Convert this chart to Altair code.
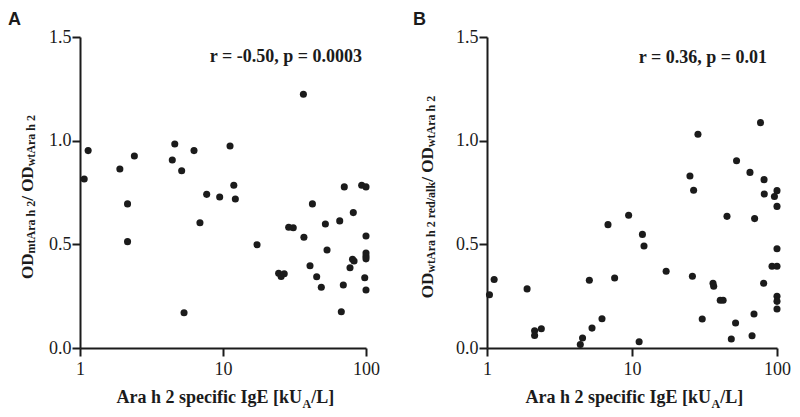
import altair as alt
import pandas as pd

# ---- data ----
ige_a = [1.14, 1.07, 1.9, 2.4, 2.15, 2.15, 4.6, 4.42, 5.14, 6.27, 5.34, 6.9, 7.69, 9.48,
         11.2, 11.9, 12.2, 17.3, 24.5, 25.5, 26.8, 28.8, 31.0, 36.5, 36.8, 40.6, 42.2,
         45.2, 48.7, 52.0, 53.4, 65.5, 67.2, 69.4, 70.5, 77.3, 80.5, 82.5, 81.5, 93.3,
         100, 100, 100, 100, 100, 98, 100]
ratio_a = [0.952, 0.815, 0.863, 0.926, 0.695, 0.513, 0.984, 0.907, 0.855, 0.952, 0.170,
           0.604, 0.741, 0.728, 0.974, 0.785, 0.719, 0.498, 0.360, 0.345, 0.358, 0.582,
           0.580, 1.224, 0.534, 0.397, 0.695, 0.344, 0.293, 0.598, 0.473, 0.613, 0.175,
           0.304, 0.777, 0.387, 0.428, 0.420, 0.653, 0.785, 0.777, 0.540, 0.458, 0.443,
           0.430, 0.339, 0.280]

ige_b = [1.04, 1.12, 1.89, 2.13, 2.13, 2.37, 4.4, 4.56, 5.08, 5.3, 6.21, 6.83, 7.59, 9.48,
         11.2, 11.8, 12.1, 17.2, 25.1, 26.6, 26.1, 28.5, 30.5, 36.2, 36.6, 40.6, 42.5,
         45.2, 48.4, 51.8, 52.6, 65.1, 67.3, 69.4, 70.1, 77, 80.9, 81.4, 81.7, 92.4, 96,
         100, 100, 100, 100, 100, 100, 100]
ratio_b = [0.257, 0.330, 0.285, 0.083, 0.060, 0.093, 0.017, 0.048, 0.327, 0.096, 0.141,
           0.595, 0.338, 0.640, 0.030, 0.548, 0.492, 0.370, 0.830, 0.761, 0.346, 1.031,
           0.140, 0.312, 0.298, 0.230, 0.230, 0.635, 0.043, 0.121, 0.903, 0.847, 0.059,
           0.164, 0.624, 1.087, 0.312, 0.812, 0.743, 0.394, 0.731, 0.759, 0.683, 0.479,
           0.394, 0.249, 0.225, 0.188]

x_ticks = [1, 10, 100]
y_ticks = [0.0, 0.5, 1.0, 1.5]

stat_a = "r = -0.50, p = 0.0003"
stat_b = "r = 0.36, p = 0.01"
x_title = ("Ara h 2 specific IgE [kU", "A", "/L]")
ytitle_a = [("OD", 17, 0), ("mtAra h 2", 12, 2), ("/ OD", 17, 0), ("wtAra h 2", 12, 2)]
ytitle_b = [("OD", 17, 0), ("wtAra h 2 red/alk", 12, 2), ("/ OD", 17, 0), ("wtAra h 2", 12, 2)]

# Times-Bold advance widths (per 1000 em) used to chain the text pieces
TB = {' ': 250, '/': 278, 'O': 778, 'D': 722, 'm': 833, 't': 333, 'A': 722, 'r': 444,
      'a': 500, 'h': 556, '2': 500, 'w': 722, 'e': 444, 'd': 556, 'l': 278, 'k': 556}


def tw(s, size):
    return sum(TB.get(c, 500) for c in s) / 1000 * size


SERIF = "Liberation Serif"
INK = "#1b1b1b"
H = 311


def one(text, x, y, size, font=SERIF, align="left", angle=0, weight="bold"):
    kw = dict(text=text, font=font, fontSize=size, fontWeight=weight, align=align,
              baseline="alphabetic", color=INK)
    if angle:
        kw["angle"] = angle
    return alt.Chart(alt.Data(values=[{}])).mark_text(**kw).encode(
        x=alt.value(x), y=alt.value(y))


def panel(xs, ys, letter, letter_x, stat, stat_x, stat_y, pieces, title_x, W):
    df = pd.DataFrame({"ige": xs, "ratio": ys})
    pts = alt.Chart(df).mark_circle(size=50, color=INK, opacity=1).encode(
        x=alt.X("ige:Q",
                scale=alt.Scale(type="log", domain=[1, 100], nice=False),
                axis=alt.Axis(values=x_ticks, format="d", title=None, labelPadding=4,
                              labelFlush=False, labelOverlap=False)),
        y=alt.Y("ratio:Q",
                scale=alt.Scale(domain=[0, 1.5], nice=False),
                axis=alt.Axis(values=y_ticks, format=".1f", title=None, labelPadding=1)),
    )
    layers = [pts]
    layers.append(one(letter, letter_x, -12, 18, font="Liberation Sans"))
    layers.append(one(stat, stat_x, stat_y, 18, align="right"))
    total = sum(tw(t, s) for t, s, _ in pieces)
    pos = 160 + total / 2
    for t, s, dx in pieces:
        layers.append(one(t, title_x + dx, pos, s, angle=270))
        pos -= tw(t, s)
    ux = W / 2 + 79
    layers.append(one(x_title[0], ux, 366, 18, align="right"))
    layers.append(one(x_title[1], ux + 0.5, 371, 12))
    layers.append(one(x_title[2], ux + 0.5 + tw("A", 12), 366, 18))
    return alt.layer(*layers).properties(width=W, height=H)


pa = panel(ige_a, ratio_a, "A", -72, stat_a, 282, 25, ytitle_a, -47, 286)
pb = panel(ige_b, ratio_b, "B", -74, stat_b, 280, 26, ytitle_b, -54, 290)

chart = alt.hconcat(pa, pb, spacing=33).properties(
    padding={"left": 0, "top": 3, "right": 0, "bottom": 0}
).configure_view(stroke=None).configure_axis(
    grid=False, domainColor=INK, domainWidth=2, tickColor=INK, tickWidth=2, tickSize=8,
    labelFont=SERIF, labelFontSize=18, labelColor=INK, labelFontWeight="normal"
)

chart.save("out.html", embed_options={"renderer": "svg", "actions": False})
